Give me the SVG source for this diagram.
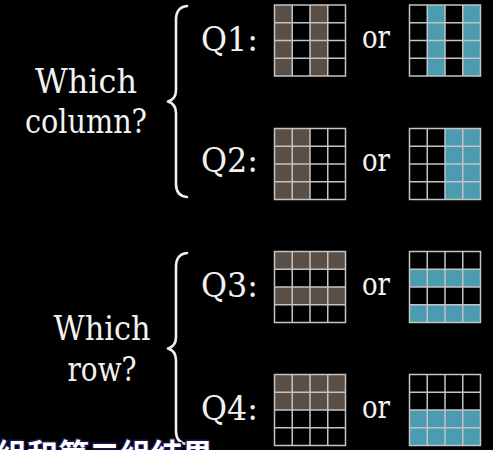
<svg xmlns="http://www.w3.org/2000/svg" xmlns:xlink="http://www.w3.org/1999/xlink" width="493" height="450" viewBox="0 0 493 450">
<style>
.lbl{font-family:'DejaVu Serif','Liberation Serif',serif;fill:#f2f2f2;}
.big{font-size:34px;}
.or{font-size:32px;}
.br{fill:none;stroke:#f0f0f0;stroke-width:2.6;stroke-linecap:round;stroke-linejoin:round;}
.b{fill:#5a4f47;}
.c{fill:#4b9bb1;}
.gl{fill:none;stroke:#c4c4c4;stroke-width:1.5;}
.sub{font-family:'Noto Sans CJK SC','Noto Sans',sans-serif;font-weight:bold;font-size:31px;fill:#ffffff;stroke:#161650;stroke-width:3;paint-order:stroke;}
</style>
<defs>
<g id="grid">
<path class="gl" d="M0,0H71V71H0Z M17.75,0V71 M35.5,0V71 M53.25,0V71 M0,17.75H71 M0,35.5H71 M0,53.25H71"/>
</g>
</defs>
<rect width="493" height="450" fill="#000"/>

<g id="label-column">
<text class="lbl big" x="86" y="93" text-anchor="middle" textLength="102" lengthAdjust="spacingAndGlyphs">Which</text>
<text class="lbl big" x="86" y="133" text-anchor="middle" textLength="122" lengthAdjust="spacingAndGlyphs">column?</text>
</g>
<g id="label-row">
<text class="lbl big" x="102" y="340" text-anchor="middle" textLength="97" lengthAdjust="spacingAndGlyphs">Which</text>
<text class="lbl big" x="102" y="381" text-anchor="middle" textLength="69" lengthAdjust="spacingAndGlyphs">row?</text>
</g>

<g id="connectors">
<path class="br" d="M187,6 Q176,7 176,20 L176,90 Q176,99 168,101.5 Q176,104 176,113 L176,184 Q176,196 187,197"/>
<path class="br" d="M187,253 Q176,254 176,267 L176,337 Q176,346 168,348.5 Q176,351 176,360 L176,431 Q176,443 187,444"/>
</g>

<g id="q1">
<text class="lbl big" x="201" y="51" textLength="57" lengthAdjust="spacingAndGlyphs">Q1:</text>
<g transform="translate(274.5,5)">
<rect class="b" x="0" y="0" width="17.75" height="71"/>
<rect class="b" x="35.5" y="0" width="17.75" height="71"/>
<use xlink:href="#grid"/>
</g>
<text class="lbl or" x="376" y="48" text-anchor="middle" textLength="28" lengthAdjust="spacingAndGlyphs">or</text>
<g transform="translate(409.5,5)">
<rect class="c" x="17.75" y="0" width="17.75" height="71"/>
<rect class="c" x="53.25" y="0" width="17.75" height="71"/>
<use xlink:href="#grid"/>
</g>
</g>

<g id="q2">
<text class="lbl big" x="201" y="172" textLength="57" lengthAdjust="spacingAndGlyphs">Q2:</text>
<g transform="translate(274.5,128.5)">
<rect class="b" x="0" y="0" width="35.5" height="71"/>
<use xlink:href="#grid"/>
</g>
<text class="lbl or" x="376" y="171" text-anchor="middle" textLength="28" lengthAdjust="spacingAndGlyphs">or</text>
<g transform="translate(409.5,128.5)">
<rect class="c" x="35.5" y="0" width="35.5" height="71"/>
<use xlink:href="#grid"/>
</g>
</g>

<g id="q3">
<text class="lbl big" x="201" y="297" textLength="57" lengthAdjust="spacingAndGlyphs">Q3:</text>
<g transform="translate(274.5,251.5)">
<rect class="b" x="0" y="0" width="71" height="17.75"/>
<rect class="b" x="0" y="35.5" width="71" height="17.75"/>
<use xlink:href="#grid"/>
</g>
<text class="lbl or" x="376" y="295" text-anchor="middle" textLength="28" lengthAdjust="spacingAndGlyphs">or</text>
<g transform="translate(409.5,251.5)">
<rect class="c" x="0" y="17.75" width="71" height="17.75"/>
<rect class="c" x="0" y="53.25" width="71" height="17.75"/>
<use xlink:href="#grid"/>
</g>
</g>

<g id="q4">
<text class="lbl big" x="201" y="420" textLength="57" lengthAdjust="spacingAndGlyphs">Q4:</text>
<g transform="translate(274.5,374.5)">
<rect class="b" x="0" y="0" width="71" height="35.5"/>
<use xlink:href="#grid"/>
</g>
<text class="lbl or" x="376" y="418" text-anchor="middle" textLength="28" lengthAdjust="spacingAndGlyphs">or</text>
<g transform="translate(409.5,374.5)">
<rect class="c" x="0" y="35.5" width="71" height="35.5"/>
<use xlink:href="#grid"/>
</g>
</g>

<g id="subtitle">
<text class="sub" x="-4" y="466">组和第二组结果</text>
</g>
</svg>
